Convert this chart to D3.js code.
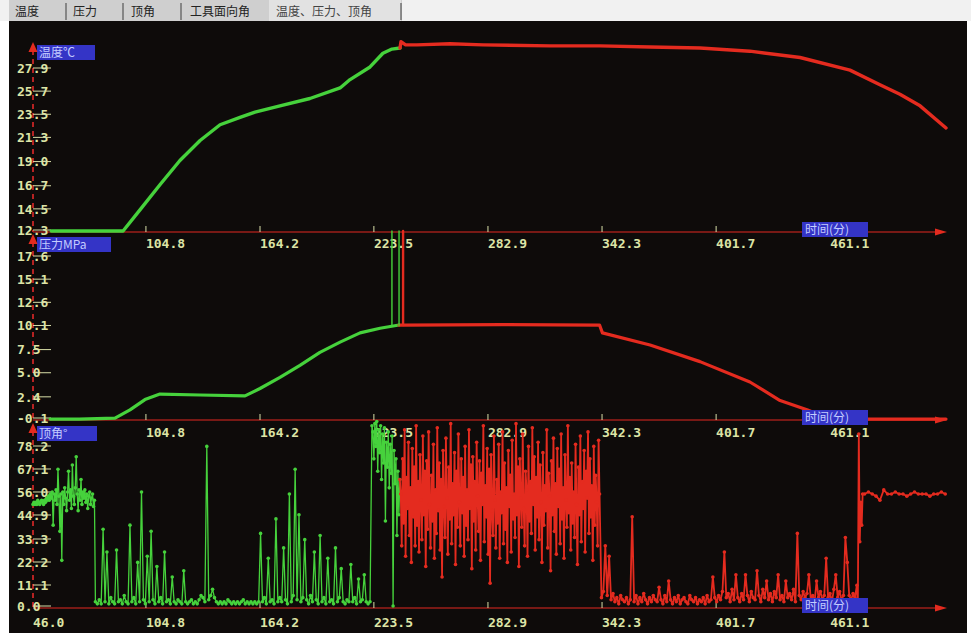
<!DOCTYPE html>
<html>
<head>
<meta charset="utf-8">
<script src="https://cdn.jsdelivr.net/npm/d3@7"></script>
<style>
body { margin: 0; background: #fff; }
svg { display: block; }
.tick-label { font-family: "DejaVu Sans Mono", monospace; font-weight: bold; font-size: 13px; fill: #dde4a6; }
.box-label { font-family: "Noto Sans CJK SC", sans-serif; font-size: 12px; fill: #c4ccff; }
.tab { font-family: "Noto Sans CJK SC", sans-serif; font-size: 12px; fill: #222; }
</style>
</head>
<body>
<svg id="chart"></svg>
<script>
// tabs of the logging program
var tabs = ["温度", "压力", "顶角", "工具面向角", "温度、压力、顶角"];

// time axis (minutes)
var timeTicks = ["46.0", "104.8", "164.2", "223.5", "282.9", "342.3", "401.7", "461.1"];
var timeLabel = "时间(分)";

// y tick labels
var tempTicks = ["12.3", "14.5", "16.7", "19.0", "21.3", "23.5", "25.7", "27.9"];
var pressTicks = ["-0.1", "2.4", "5.0", "7.5", "10.1", "12.6", "15.1", "17.6"];
var angleTicks = ["0.0", "11.1", "22.2", "33.3", "44.9", "56.0", "67.1", "78.2"];

// temperature, [minute, degC]
var tempGreen = [[55.5,12.4],[70,12.4],[85,12.4],[92.9,12.4],[101.7,14.4],[112.1,16.8],[122.5,19.1],[133,21.0],
	[143.4,22.5],[153.8,23.2],[161.6,23.7],[174.6,24.3],[190.2,25.0],[205.9,26.0],[211.1,26.8],[221.5,28.0],
	[228.2,29.3],[232.9,29.7],[237.1,29.8]];
var tempRed = [[237.1,29.8],[237.6,30.4],[240,30.1],[245.9,30.1],[263.1,30.2],[280.3,30.1],[315.2,30.0],[341.2,30.0],
	[367.3,29.9],[393.3,29.8],[419.3,29.5],[445.4,28.9],[471.4,27.7],[487,26.3],[497.4,25.4],[507.9,24.3],[521.4,22.2]];

// pressure, [minute, MPa]
var pressGreen = [[54.9,0.0],[70,0.0],[88.7,0.1],[96.5,1.0],[104.3,2.1],[112.1,2.7],[133,2.6],[156.4,2.5],
	[164.2,3.3],[174.6,4.5],[185,5.8],[195.4,7.2],[205.9,8.3],[216.3,9.3],[226.7,9.8],[236.6,10.15]];
var pressRed = [[236.6,10.15],[238.7,10.15],[290,10.2],[341,10.15],[342.5,9.3],[367.3,8.0],[393.3,6.2],
	[419.3,4.0],[435,2.0],[449,1.0],[461,0.0],[521.4,0.0]];
// short spikes, [minute, from, to]
var pressSpikesGreen = [[232.9,10.0,20.3],[236.6,10.1,20.3]];
var pressSpikesRed = [[238.7,10.15,20.3]];

// inclination (degrees), sampled blocks: [start minute, step]
var angleSampling = [[46,0.5],[78.5,1],[222.5,0.5],[237.5,0.5],[342,1],[475.5,0.5],[479,2]];
var angleValuesA = [50,51,50,51,50,52,51,50,51,52,51,50,52,51,53,52,54,52,55,53,56,40,55,52,57,50,67,54,37,55,
	23,56,50,58,53,47,56,66,52,57,48,69,54,50,58,73,55,47,57,52,62,50,56,53,57,51,55,48,54,56,50,53,55,49,52];
var angleValuesB = [3,2,4,2,38,3,27,2,5,3, 2,28,3,4,2,6,3,2,40,3, 5,2,22,3,56,4,2,25,3,37, 4,2,20,3,5,2,27,3,4,2,
	15,3,2,4,3,2,18,3,2,3, 4,2,3,2,4,6,5,3,78,4, 6,9,5,3,2,3,2,3,2,4, 3,2,3,2,3,2,3,4,2,3,
	2,3,2,3,2,3,36,3,5,2, 24,3,4,2,43,3,5,3,29,4, 2,55,3,6,67,4,45,3,5,33, 4,2,6,3,27,4,2,35,3,5,
	2,24,3,4,2,29,3,5,19,3, 2,4,3,21,3,5,2,14,3,4, 16,3,2,3];
var angleValuesC = [88,85,72,89,78,90,66,86,75,88,62,84,70,87,42,80,68,85,58,79,65,83,1,76,60,72,35,66,45,62];
var angleValuesD = [55,30,72,41,86,25,63,48,80,35,58,22,77,44,68,30,
	88,40,61,27,74,52,33,83,45,66,20,71,38,85,50,29,
	64,42,79,24,57,36,87,47,70,28,62,15,76,49,34,82,
	53,26,68,43,89,31,60,45,75,21,66,39,84,51,30,72,
	46,63,25,78,40,57,33,86,48,69,19,73,42,61,28,80,
	54,37,71,23,65,50,88,32,59,44,77,26,67,12,74,47,
	35,83,52,29,62,41,79,24,56,46,85,31,70,38,58,22,
	76,49,64,27,81,43,55,34,89,45,68,20,72,53,39,84,
	48,30,66,57,25,78,42,61,36,87,50,73,28,63,44,80,
	33,69,51,22,75,40,59,47,86,29,65,54,18,71,45,82,
	37,60,26,77,49,67,31,84,43,58,24,74,52,39,88,46,
	63,28,70,41,56,34,79,50,21,68,45,83,32,61,48,76,
	27,66,53,85,36,72,44,59,23,78,40,64,51,30,81,55];
var angleValuesE = [5,8,30,6,25,4,7,3,5,2, 6,4,3,5,2,4,44,3,6,2, 5,3,7,4,2,5,3,6,4,3, 10,4,2,6,3,13,4,2,5,3,
	6,2,4,5,3,2,6,4,3,5, 2,4,3,5,2,6,3,4,15,5, 3,6,4,8,27,5,7,3,9,4, 16,5,3,7,4,16,6,3,8,5,
	4,18,6,3,9,5,13,4,7,3, 8,5,16,4,6,3,13,5,7,4, 9,3,36,6,4,8,5,7,16,4, 6,3,13,5,8,4,6,24,5,7,
	3,9,16,5,8,4,6,34,22,6, 4,7,5,11];
var angleValuesF1 = [2,84,32,51,40,55];
var angleValuesF2 = [55,56,55,54,52,57,55,55,56,55,55,54,55,56,55,55,55,54,55,55,56,55];
var angleBlocks = [angleValuesA, angleValuesB, angleValuesC, angleValuesD, angleValuesE, angleValuesF1, angleValuesF2];
var switchMinute = 237;

var GREEN = "#46d23c", RED = "#e42b1f";

var svg = d3.select("#chart").attr("width", 971).attr("height", 634);

// tab strip
svg.append("rect").attr("x", 0).attr("y", 0).attr("width", 971).attr("height", 21).attr("fill", "#f1f1f1");
svg.append("rect").attr("x", 9).attr("y", 0).attr("width", 393).attr("height", 21).attr("fill", "#cfcfcf");
svg.append("rect").attr("x", 269).attr("y", 0).attr("width", 132).attr("height", 21).attr("fill", "#e2e2e2");
var tabX = [15, 73, 131, 190, 276];
var sepX = [66, 123, 181, 401];
svg.selectAll(".tab").data(tabs).enter().append("text")
	.attr("class", "tab")
	.attr("x", function(d, i) { return tabX[i]; })
	.attr("y", 16)
	.style("fill", function(d, i) { return i == 4 ? "#444" : "#222"; })
	.text(function(d) { return d; });
svg.selectAll(".sep").data(sepX).enter().append("line")
	.attr("x1", function(d) { return d; }).attr("x2", function(d) { return d; })
	.attr("y1", 3).attr("y2", 20)
	.attr("stroke", "#555").attr("stroke-width", 1.2);

// black plotting area
svg.append("rect").attr("x", 9).attr("y", 21).attr("width", 958).attr("height", 612).attr("fill", "#0e0b0a");

var x = d3.scaleLinear().domain([46, 521.4]).range([33, 946]);

var panels = [
	{ label: "温度℃", boxW: 58, ticks: tempTicks, domain: [12.3, 27.9], range: [232, 68], top: 42, skipFirstX: true, labelGap: 16 },
	{ label: "压力MPa", boxW: 74, ticks: pressTicks, domain: [-0.1, 17.6], range: [420, 256], top: 234, skipFirstX: true, labelGap: 17 },
	{ label: "顶角°", boxW: 60, ticks: angleTicks, domain: [0, 78.2], range: [608, 446], top: 423, skipFirstX: false, labelGap: 19 }
];
panels.forEach(function(p) {
	p.y = d3.scaleLinear().domain(p.domain).range(p.range);
	p.axisY = p.range[0];
});

// axes (drawn below the data)
panels.forEach(function(p) {
	var g = svg.append("g");
	// dashed vertical axis
	g.append("line")
		.attr("x1", 33).attr("x2", 33).attr("y1", p.top + 8).attr("y2", p.axisY)
		.attr("stroke", "#b52222").attr("stroke-width", 2).attr("stroke-dasharray", "5,4");
	// time axis
	g.append("line")
		.attr("x1", 33).attr("x2", 940).attr("y1", p.axisY).attr("y2", p.axisY)
		.attr("stroke", "#9c1f1a").attr("stroke-width", 1.6);
	g.append("path")
		.attr("d", "M935," + (p.axisY - 3.5) + " L947," + p.axisY + " L935," + (p.axisY + 3.5) + "Z")
		.attr("fill", RED);
	var ticks = p.skipFirstX ? timeTicks.slice(1) : timeTicks;
	ticks.forEach(function(t) {
		var tx = x(+t);
		if (t != "46.0") {
			g.append("line").attr("x1", tx).attr("x2", tx).attr("y1", p.axisY - 6).attr("y2", p.axisY)
				.attr("stroke", "#d8dfa8").attr("stroke-width", 1);
		}
		g.append("text").attr("class", "tick-label")
			.attr("x", tx).attr("y", p.axisY + p.labelGap).text(t);
	});
	// y ticks
	p.ticks.forEach(function(t, i) {
		var ty = i == 0 ? p.axisY - 2 : p.y(+t);
		g.append("text").attr("class", "tick-label")
			.attr("x", 17).attr("y", ty).attr("dy", "0.36em").text(t);
		g.append("line").attr("x1", 33).attr("x2", 51).attr("y1", ty).attr("y2", ty)
			.attr("stroke", "#d8dfa8").attr("stroke-width", 1);
	});
});

function drawLine(p, data, color, width) {
	var line = d3.line()
		.x(function(d) { return x(d[0]); })
		.y(function(d) { return p.y(d[1]); });
	svg.append("path").datum(data)
		.attr("d", line)
		.attr("fill", "none")
		.attr("stroke", color)
		.attr("stroke-width", width)
		.attr("stroke-linejoin", "round")
		.attr("stroke-linecap", "round");
}

// temperature
drawLine(panels[0], tempGreen, GREEN, 3.4);
drawLine(panels[0], tempRed, RED, 3.4);

// pressure
drawLine(panels[1], pressGreen, GREEN, 3.2);
drawLine(panels[1], pressRed, RED, 3.2);
pressSpikesGreen.forEach(function(s) {
	drawLine(panels[1], [[s[0], s[1]], [s[0], s[2]]], GREEN, 1.4);
});
pressSpikesRed.forEach(function(s) {
	drawLine(panels[1], [[s[0], s[1]], [s[0], s[2]]], RED, 2.4);
});

// inclination
var anglePoints = [];
angleBlocks.forEach(function(values, b) {
	var start = angleSampling[b][0], step = angleSampling[b][1];
	values.forEach(function(v, i) {
		anglePoints.push([start + i * step, v]);
	});
});
var angleGreen = anglePoints.filter(function(d) { return d[0] <= switchMinute; });
var angleRed = anglePoints.filter(function(d) { return d[0] >= switchMinute; });
[[angleGreen, GREEN, 1.3], [angleRed, RED, 1.8]].forEach(function(s) {
	drawLine(panels[2], s[0], s[1], s[2]);
	svg.append("g").selectAll("circle").data(s[0]).enter().append("circle")
		.attr("cx", function(d) { return x(d[0]); })
		.attr("cy", function(d) { return panels[2].y(d[1]); })
		.attr("r", 1.8)
		.attr("fill", s[1]);
});

// label boxes on top of everything
panels.forEach(function(p) {
	svg.append("rect").attr("x", 37).attr("y", p.top + 3).attr("width", p.boxW).attr("height", 15)
		.attr("fill", "#3434c6");
	svg.append("text").attr("class", "box-label")
		.attr("x", 39).attr("y", p.top + 15).text(p.label);
	svg.append("path")
		.attr("d", "M33," + p.top + " L37.5," + (p.top + 10) + " L28.5," + (p.top + 10) + "Z")
		.attr("fill", RED);
	svg.append("rect").attr("x", 802).attr("y", p.axisY - 10).attr("width", 66).attr("height", 15)
		.attr("fill", "#3434c6");
	svg.append("text").attr("class", "box-label")
		.attr("x", 805).attr("y", p.axisY + 2).text(timeLabel);
});
</script>
</body>
</html>
